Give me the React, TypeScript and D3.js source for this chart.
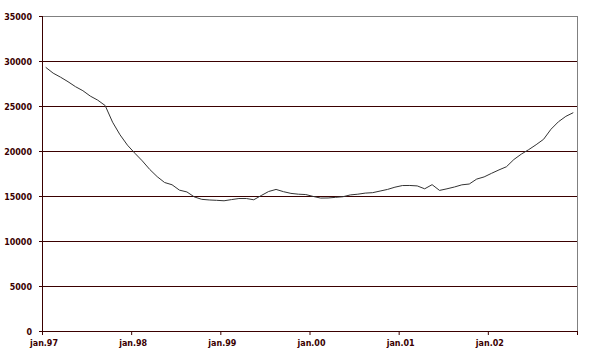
import React, { useEffect, useRef } from 'react';
import * as d3 from 'd3';

// monthly values, jan.97 - dec.02
const values: number[] = [
  29300, 28650, 28200, 27700, 27150, 26700, 26100, 25650, 25050, 23200, 21800, 20650,
  19750, 18900, 17950, 17150, 16500, 16250, 15650, 15450, 14900, 14630, 14560, 14520,
  14470, 14600, 14720, 14720, 14580, 15050, 15500, 15730, 15480, 15290, 15200, 15160,
  14950, 14770, 14780, 14850, 14920, 15120, 15200, 15320, 15370, 15550, 15730, 15980,
  16160, 16170, 16120, 15800, 16260, 15620, 15800, 16000, 16240, 16330, 16880, 17120,
  17520, 17900, 18250, 19050, 19650, 20150, 20700, 21300, 22420, 23250, 23850, 24260,
];
const yearLabels: string[] = ['jan.97', 'jan.98', 'jan.99', 'jan.00', 'jan.01', 'jan.02'];
const yTicks: number[] = [0, 5000, 10000, 15000, 20000, 25000, 30000, 35000];

const App: React.FC = () => {
  const svgRef = useRef<SVGSVGElement | null>(null);

  useEffect(() => {
    if (!svgRef.current) return;
    const svg = d3.select(svgRef.current);
    svg.selectAll('*').remove();

    const left = 42, right = 577, top = 16, bottom = 331;
    const maroon = '#3a0000';
    const font = '"DejaVu Sans", Verdana, sans-serif';

    const x = d3.scaleBand<number>()
      .domain(d3.range(values.length))
      .range([left, right])
      .padding(0);
    const y = d3.scaleLinear().domain([0, 35000]).range([bottom, top]);

    // gridlines
    svg.append('g')
      .selectAll('line')
      .data(yTicks.filter(t => t > 0 && t < 35000))
      .join('line')
      .attr('x1', left).attr('x2', right)
      .attr('y1', d => y(d) + 0.5).attr('y2', d => y(d) + 0.5)
      .attr('stroke', maroon).attr('stroke-width', 1);

    // plot border top / right
    svg.append('line')
      .attr('x1', left).attr('x2', right + 0.5)
      .attr('y1', top + 0.5).attr('y2', top + 0.5)
      .attr('stroke', '#808080');
    svg.append('line')
      .attr('x1', right + 0.5).attr('x2', right + 0.5)
      .attr('y1', top).attr('y2', bottom)
      .attr('stroke', '#808080');

    // y axis
    const yAxis = svg.append('g');
    yAxis.append('line')
      .attr('x1', left + 0.5).attr('x2', left + 0.5)
      .attr('y1', top).attr('y2', bottom + 0.5)
      .attr('stroke', maroon);
    yAxis.selectAll('line.tick')
      .data(yTicks)
      .join('line')
      .attr('class', 'tick')
      .attr('x1', left - 3).attr('x2', left)
      .attr('y1', d => y(d) + 0.5).attr('y2', d => y(d) + 0.5)
      .attr('stroke', maroon);
    yAxis.selectAll('text')
      .data(yTicks)
      .join('text')
      .attr('x', 32)
      .attr('y', d => y(d) + 3.5)
      .attr('text-anchor', 'end')
      .attr('font-family', font)
      .attr('font-size', 8)
      .attr('font-weight', 'bold')
      .attr('fill', maroon)
      .text(d => String(d));

    // x axis
    const xAxis = svg.append('g');
    xAxis.append('line')
      .attr('x1', left).attr('x2', right + 1)
      .attr('y1', bottom + 0.5).attr('y2', bottom + 0.5)
      .attr('stroke', maroon);
    const tickIdx = d3.range(0, values.length + 1, 12);
    xAxis.selectAll('line.tick')
      .data(tickIdx)
      .join('line')
      .attr('class', 'tick')
      .attr('x1', d => (d < values.length ? x(d)! : right) + 0.5)
      .attr('x2', d => (d < values.length ? x(d)! : right) + 0.5)
      .attr('y1', bottom).attr('y2', bottom + 4)
      .attr('stroke', maroon);
    xAxis.selectAll('text')
      .data(yearLabels)
      .join('text')
      .attr('x', (_, i) => x(i * 12)! + 2)
      .attr('y', 346)
      .attr('text-anchor', 'middle')
      .attr('font-family', font)
      .attr('font-size', 8)
      .attr('font-weight', 'bold')
      .attr('fill', maroon)
      .text(d => d);

    // the line
    const line = d3.line<number>()
      .x((_, i) => x(i)! + x.bandwidth() / 2)
      .y(d => y(d));
    svg.append('path')
      .datum(values)
      .attr('fill', 'none')
      .attr('stroke', '#333333')
      .attr('stroke-width', 1)
      .attr('d', line);
  }, []);

  return (
    <svg
      ref={svgRef}
      width={602}
      height={360}
      style={{ position: 'absolute', left: 0, top: 0, background: '#fff' }}
    />
  );
};

export default App;
